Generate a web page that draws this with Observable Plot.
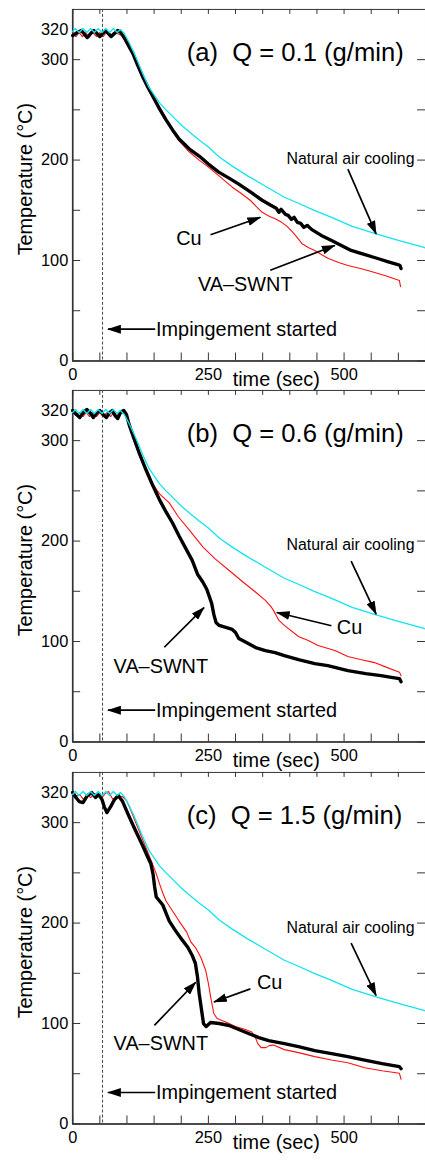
<!DOCTYPE html>
<html><head><meta charset="utf-8">
<script src="https://cdn.jsdelivr.net/npm/d3@7"></script>
<script src="https://cdn.jsdelivr.net/npm/@observablehq/plot@0.6"></script>
<style>
html,body{margin:0;padding:0;background:#fff;overflow:hidden}
#chart{width:425px;height:1160px;overflow:hidden;background:#fff}
#chart svg{display:block;overflow:visible}
</style></head><body><div id="chart"></div>
<script>
// ---- axes ----
const xTicks = [0,50,100,150,200,250,300,350,400,450,500,550,600];
const yTicks = [0,50,100,150,200,250,300];
const xTickLabels = [0, 250, 500];
const yTickLabels = [0, 100, 200, 300];
const plateauLabel = [{text: "320", T: 330}];
const xTitle = [{text: "time (sec)", t: 375}];
const yTitle = [{text: "Temperature (°C)", T: 181}];
const impingementTime = [55];

// ---- natural air cooling (same reference curve in all panels) ----
const airCooling = [[0,328],[5,331],[12,327],[19,331],[26,327],[33,331],[40,327],[47,331],[54,327],[61,331],[68,327],[75,331],[82,327],[88,330],[95,326],[103,318],[111,309],[120,298],[129,286],[140,273],[150,265],[160,257],[172,250],[185,243],[200,235],[215,228],[233,220],[250,213],[270,203],[294,194],[320,185],[355,174],[390,163],[416,157],[445,150],[477,143],[515,134],[559,126.5],[600,120],[644,113.5],[650,112.5]];

// ---- (a) Q = 0.1 g/min ----
const swntA = [[0,324],[8,327],[16,329],[22,325],[27,322],[33,326],[39,329],[45,326],[50,323],[55,326],[61,329],[66,326],[71,323],[77,326],[83,329],[89,327],[96,321],[104,313],[111,306],[120,294],[129,283],[138,273],[148,263],[160,251],[172,240],[184,230],[196,221],[215,211],[233,204],[250,196],[269,188],[288,182],[306,176],[328,168],[349,160],[365,155],[375,152],[380,148],[384,151],[392,146],[397,145],[403,141],[408,143],[414,138],[420,137],[426,133],[432,135],[440,131],[458,125],[477,120],[495,115],[513,110],[537,106],[562,102],[580,99],[599,96],[603,95],[605,92]];
const cuA = [[0,326],[6,323],[12,327],[18,323],[24,327],[30,322],[37,327],[44,323],[50,327],[56,323],[62,327],[68,323],[75,327],[82,326],[90,324],[100,315],[111,305],[120,294],[129,282],[140,271],[150,261],[160,251],[172,240],[184,229],[196,219],[215,208],[233,200],[250,193],[270,184],[294,173],[310,167],[327,160],[338,154],[349,148],[362,144],[375,141],[385,138],[395,134],[404,129],[412,124],[422,117],[434,113],[446,110],[458,106],[471,102],[490,98],[507,95],[530,92],[550,89],[575,85],[602,80],[604,74]];

// ---- (b) Q = 0.6 g/min ----
const swntB = [[0,330],[7,326],[13,323],[20,328],[26,331],[33,327],[38,323],[45,328],[50,330],[56,326],[62,323],[68,328],[73,330],[78,325],[83,322],[88,328],[94,330],[99,326],[104,316],[113,302],[123,287],[135,271],[147,256],[160,241],[172,229],[184,218],[196,205],[208,193],[220,181],[230,167],[240,159],[247,152],[251,146],[256,138],[260,127],[264,119],[270,116],[282,114],[294,112],[300,109],[306,103],[320,99],[337,94],[355,91],[373,89],[390,86],[416,82],[446,78],[470,76],[507,71],[540,68],[568,66],[590,64],[602,63],[605,60]];
const cuB = [[0,329],[6,325],[12,328],[19,324],[25,328],[31,324],[37,328],[44,324],[50,328],[56,324],[63,328],[70,324],[76,328],[82,325],[90,328],[97,326],[104,316],[113,302],[123,288],[135,272],[147,257],[160,247],[178,238],[195,224],[215,211],[240,194],[263,182],[290,170],[312,160],[335,150],[355,141],[365,135],[370,131],[375,126],[380,121],[390,116],[416,105],[434,101],[452,96],[483,91],[507,85],[530,82],[556,79],[575,75],[602,69.5],[605,66]];

// ---- (c) Q = 1.5 g/min ----
const swntC = [[0,330],[6,325],[12,321],[19,320],[27,327],[35,330],[42,325],[48,328],[54,323],[58,316],[63,310],[70,316],[77,323],[84,327],[92,321],[104,306],[115,293],[129,277],[138,266],[144,259],[148,249],[151,236],[154,226],[160,222],[166,218],[172,210],[178,202],[190,192],[202,183],[212,176],[220,168],[226,160],[230,146],[233,130],[237,115],[241,100],[246,97],[254,101],[270,100],[288,98],[306,94],[324,90],[343,86],[361,83],[390,80],[416,77],[446,73],[477,70],[507,67],[538,63.6],[570,60],[602,57],[605,55]];
const cuC = [[0,329],[7,326],[13,328],[20,323],[27,328],[33,325],[40,329],[47,327],[54,325],[60,329],[66,331],[72,325],[77,322],[84,325],[92,326],[99,322],[105,315],[111,307],[120,295],[129,283],[138,271],[147,259],[154,249],[160,239],[166,230],[172,222],[184,212],[196,202],[210,191],[218,181],[227,175],[236,166],[245,153],[250,140],[255,124],[260,110],[266,105],[282,101.5],[300,97],[318,94],[330,91.5],[336,87],[341,80],[347,76],[356,76],[362,78],[370,78.5],[390,74],[416,71],[446,67],[477,63.6],[507,61],[538,56],[570,53],[602,50.4],[605,44.5]];

// ---- annotations (data coordinates) ----
const titles = ["(a)\u00a0\u00a0Q = 0.1 (g/min)", "(b)\u00a0\u00a0Q = 0.6 (g/min)", "(c)\u00a0\u00a0Q = 1.5 (g/min)"];
const titlePos = [{t: 210, T: 307}, {t: 210, T: 307}, {t: 210, T: 307}];
const notesA = [
  {key: "air", text: "Natural air cooling", t: 394, T: 201},
  {key: "big", text: "Cu", t: 214, T: 122},
  {key: "big", text: "VA\u2013SWNT", t: 318, T: 76},
  {key: "imp", text: "Impingement started", t: 153.6, T: 31.6}
];
const arrowsA = [
  {t1: 507, T1: 191, t2: 559, T2: 126.6},
  {t1: 254, T1: 125.6, t2: 345.7, T2: 143},
  {t1: 364, T1: 90.3, t2: 483, T2: 115},
  {t1: 152, T1: 31.6, t2: 65, T2: 31.6}
];
const notesB = [
  {key: "air", text: "Natural air cooling", t: 394, T: 196.5},
  {key: "big", text: "Cu", t: 510, T: 114},
  {key: "big", text: "VA\u2013SWNT", t: 162.4, T: 74.5},
  {key: "imp", text: "Impingement started", t: 153.6, T: 31.6}
];
const arrowsB = [
  {t1: 513, T1: 180, t2: 559, T2: 127.3},
  {t1: 476.7, T1: 115.7, t2: 376, T2: 128.9},
  {t1: 168.8, T1: 94.3, t2: 242, T2: 133.8},
  {t1: 152, T1: 31.6, t2: 65, T2: 31.6}
];
const notesC = [
  {key: "air", text: "Natural air cooling", t: 394, T: 195.5},
  {key: "big", text: "Cu", t: 363, T: 141},
  {key: "big", text: "VA\u2013SWNT", t: 162.4, T: 80},
  {key: "imp", text: "Impingement started", t: 153.6, T: 31.3}
];
const arrowsC = [
  {t1: 513, T1: 180, t2: 559, T2: 127.9},
  {t1: 327.4, T1: 134.5, t2: 260.3, T2: 121.4},
  {t1: 150.5, T1: 98.2, t2: 226.8, T2: 141.1},
  {t1: 152, T1: 31.3, t2: 65, T2: 31.3}
];

const panels = [
  {swnt: swntA, cu: cuA, notes: notesA, arrows: arrowsA},
  {swnt: swntB, cu: cuB, notes: notesB, arrows: arrowsB},
  {swnt: swntC, cu: cuC, notes: notesC, arrows: arrowsC}
];

const FONT = "'Liberation Sans', Arial, Helvetica, sans-serif";
const AXIS = "#333";
const noteStyle = {
  air: {fontSize: 16, textAnchor: "start"},
  big: {fontSize: 20, textAnchor: "middle"},
  imp: {fontSize: 20, textAnchor: "start"}
};
const root = document.getElementById("chart");
const ns = "http://www.w3.org/2000/svg";

panels.forEach((p, i) => {
  const noteMarks = Object.keys(noteStyle).map(k =>
    Plot.text(p.notes.filter(d => d.key === k), {
      x: "t", y: "T", text: "text", fill: "black", fontFamily: FONT,
      lineAnchor: "middle", ...noteStyle[k]
    })
  );
  const svg = Plot.plot({
    width: 428, height: 384,
    marginLeft: 72.7, marginRight: 0, marginTop: 9, marginBottom: 21,
    style: {fontFamily: FONT, background: "white", overflow: "visible"},
    x: {domain: [0, 650], axis: null},
    y: {domain: [0, 350], axis: null},
    marks: [
      Plot.frame({stroke: AXIS, strokeWidth: 1}),
      Plot.ruleX([0], {stroke: AXIS, strokeWidth: 1.6}),
      Plot.ruleY([0], {stroke: AXIS, strokeWidth: 1.6}),
      Plot.tickX(xTicks, {x: d => d, insetTop: 346, stroke: AXIS}),
      Plot.tickX(xTicks, {x: d => d, insetBottom: 349, stroke: AXIS}),
      Plot.tickY(yTicks, {y: d => d, insetRight: 347.3, stroke: AXIS}),
      Plot.tickY(yTicks, {y: d => d, insetLeft: 347.3, stroke: AXIS}),
      Plot.ruleX(impingementTime, {stroke: "#444", strokeWidth: 1, strokeDasharray: "3,2"}),
      Plot.text(xTickLabels, {x: d => d, frameAnchor: "bottom", dy: 13.7, text: d => String(d), fontSize: 16.5, textAnchor: "middle", lineAnchor: "middle", fill: "black"}),
      Plot.text(yTickLabels, {y: d => d, frameAnchor: "left", dx: -4.4, text: d => String(d), fontSize: 16.5, textAnchor: "end", lineAnchor: "middle", fill: "black"}),
      Plot.text(plateauLabel, {y: "T", frameAnchor: "left", dx: -4.4, text: "text", fontSize: 16.5, textAnchor: "end", lineAnchor: "middle", fill: "black"}),
      Plot.text(xTitle, {x: "t", frameAnchor: "bottom", dy: 19, text: "text", fontSize: 20, textAnchor: "middle", lineAnchor: "middle", fill: "black"}),
      Plot.text(yTitle, {y: "T", frameAnchor: "left", dx: -47.7, text: "text", rotate: -90, fontSize: 20, textAnchor: "middle", lineAnchor: "middle", fill: "black"}),
      Plot.line(p.cu, {x: d => d[0], y: d => d[1], stroke: "#ff1010", strokeWidth: 1.1}),
      Plot.line(p.swnt, {x: d => d[0], y: d => d[1], stroke: "black", strokeWidth: 3.4, strokeLinejoin: "round"}),
      Plot.line(airCooling, {x: d => d[0], y: d => d[1], stroke: "#10e4f0", strokeWidth: 1.3}),
      Plot.text([titles[i]], {x: () => titlePos[i].t, y: () => titlePos[i].T, text: d => d, fontSize: 25.8, textAnchor: "start", lineAnchor: "middle", fill: "black"}),
      ...noteMarks,
      Plot.link(p.arrows, {x1: "t1", y1: "T1", x2: "t2", y2: "T2", stroke: "black", strokeWidth: 1.7})
    ]
  });
  const defs = document.createElementNS(ns, "defs");
  const marker = document.createElementNS(ns, "marker");
  marker.setAttribute("id", "head" + i);
  marker.setAttribute("viewBox", "0 0 14 9");
  marker.setAttribute("markerWidth", "14");
  marker.setAttribute("markerHeight", "9");
  marker.setAttribute("refX", "13");
  marker.setAttribute("refY", "4.5");
  marker.setAttribute("orient", "auto");
  marker.setAttribute("markerUnits", "userSpaceOnUse");
  const mp = document.createElementNS(ns, "path");
  mp.setAttribute("d", "M0,0L14,4.5L0,9Z");
  mp.setAttribute("fill", "black");
  marker.appendChild(mp);
  defs.appendChild(marker);
  svg.insertBefore(defs, svg.firstChild);
  svg.querySelectorAll('g[aria-label="link"] path').forEach(el => el.setAttribute("marker-end", `url(#head${i})`));
  root.appendChild(svg);
});
</script></body></html>
